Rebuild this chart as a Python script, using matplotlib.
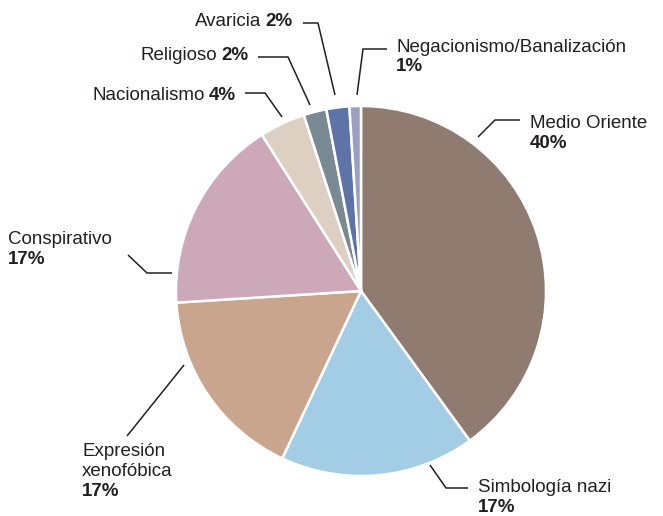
import matplotlib.pyplot as plt

categories = ["Medio Oriente", "Simbología nazi", "Expresión\nxenofóbica", "Conspirativo",
              "Nacionalismo", "Religioso", "Avaricia", "Negacionismo/Banalización"]
values = [40, 17, 17, 17, 4, 2, 2, 1]
colors = ["#8f7b70", "#a3cde4", "#c9a58e", "#cca8b9", "#ddd0c2", "#7a8a92", "#5e74a8", "#9a9fc4"]

plt.rcParams['font.family'] = ['Liberation Sans', 'DejaVu Sans']
W, H = 663, 516
fig = plt.figure(figsize=(W / 100, H / 100), dpi=100)
ax = fig.add_axes([0, 0, 1, 1])

# y axis is inverted, so startangle -90 + counterclock gives clockwise from 12 o'clock
ax.pie(values, colors=colors, center=(361, 291), radius=185, startangle=-90,
       counterclock=True, wedgeprops=dict(edgecolor='white', linewidth=1.8),
       frame=True)
ax.set_xlim(0, W)
ax.set_ylim(H, 0)
ax.axis('off')

ink = "#231f20"
fs = 13.5

# leader lines (pixel coords) and label anchors
leaders = [
    [(478, 137), (495, 120), (520, 120)],
    [(430, 465), (446, 488), (468, 488)],
    [(184, 365), (127, 436)],
    [(128, 255), (147, 273), (172, 273)],
    [(282, 117), (265, 93), (245, 93)],
    [(310, 105), (288, 57), (258, 57)],
    [(335, 95), (318, 23), (303, 23)],
    [(357, 95), (363, 49), (387, 49)],
]
for pts in leaders:
    xs, ys = zip(*pts)
    ax.plot(xs, ys, color=ink, lw=1.1, solid_capstyle='butt')

# stacked labels: name lines, then bold percentage
stacked = {0: (530, 124), 1: (478, 488), 2: (82, 451), 3: (8, 240), 7: (396, 47)}
line_h = 20.5
for i, (x, y) in stacked.items():
    lines = categories[i].split("\n")
    for k, ln in enumerate(lines):
        ax.text(x, y + k * line_h, ln, fontsize=fs, color=ink, ha='left', va='center')
    ax.text(x, y + len(lines) * line_h - 1, f"{values[i]}%", fontsize=fs, color=ink,
            fontweight='bold', ha='left', va='center')

# inline labels: "Name 2%" right-aligned
inline = {4: (236, 96), 5: (248, 55), 6: (292, 21)}
fig.canvas.draw()
r = fig.canvas.get_renderer()
inv = ax.transData.inverted()
for i, (x, y) in inline.items():
    t = ax.text(x, y, f"{values[i]}%", fontsize=fs, color=ink, fontweight='bold',
                ha='right', va='center')
    bb = t.get_window_extent(renderer=r)
    x0 = inv.transform((bb.x0, bb.y0))[0]
    ax.text(x0 - 4, y, categories[i], fontsize=fs, color=ink, ha='right', va='center')

fig.savefig("out.png", dpi=100)
